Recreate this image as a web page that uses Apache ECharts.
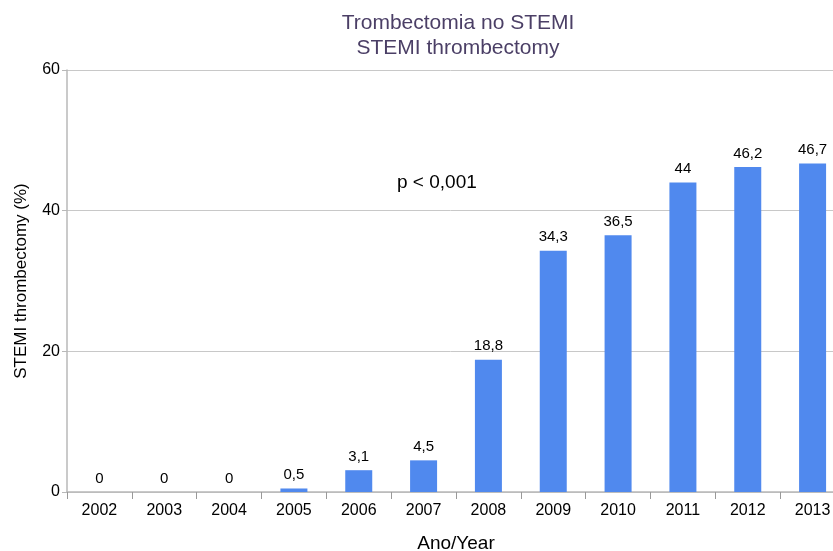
<!DOCTYPE html>
<html><head><meta charset="utf-8">
<script src="https://cdn.jsdelivr.net/npm/echarts@6/dist/echarts.min.js"></script>
<style>html,body{margin:0;padding:0;background:#fff}#c{width:833px;height:551px}</style>
</head><body><div id="c"></div>
<script>
const categories = ["2002","2003","2004","2005","2006","2007","2008","2009","2010","2011","2012","2013"];
const values = [0,0,0,0.5,3.1,4.5,18.8,34.3,36.5,44,46.2,46.7];
const yTicks = [0,20,40,60];
const titleLines = ["Trombectomia no STEMI","STEMI thrombectomy"];
const annotation = "p < 0,001";

const chart = echarts.init(document.getElementById('c'), null, {renderer:'canvas'});
const F = "'Liberation Sans', Arial, sans-serif";
chart.setOption({
  animation:false,
  backgroundColor:'#fff',
  title:{text:titleLines.join('\n'), left:453, top:6, textAlign:'center',
    textStyle:{color:'#4b3f66', fontFamily:F, fontSize:21, fontWeight:'normal', lineHeight:25}},
  grid:{left:67, width:778, top:70, height:422, containLabel:false, outerBoundsMode:'none'},
  xAxis:{type:'category', data:categories, boundaryGap:true,
    name:'Ano/Year', nameLocation:'middle', nameGap:42,
    nameTextStyle:{color:'#000', fontFamily:F, fontSize:19},
    axisLine:{show:true, lineStyle:{color:'#b8b8b8', width:1.5}},
    axisTick:{show:true, alignWithLabel:false, length:7, lineStyle:{color:'#999'}},
    axisLabel:{color:'#000', fontFamily:F, fontSize:16, margin:11}},
  yAxis:{type:'value', min:0, max:60, interval:20,
    name:'STEMI thrombectomy (%)', nameLocation:'middle', nameGap:37,
    nameTextStyle:{color:'#000', fontFamily:F, fontSize:17},
    axisLine:{show:true, lineStyle:{color:'#b8b8b8', width:1.5}},
    axisTick:{show:true, length:5, lineStyle:{color:'#b8b8b8'}},
    axisLabel:{color:'#000', fontFamily:F, fontSize:16, margin:7,
      formatter:v=>yTicks.includes(v)?String(v):''},
    splitLine:{show:true, lineStyle:{color:'#c8c8c8', width:1}}},
  series:[{type:'bar', data:values, barWidth:27,
    itemStyle:{color:'#5089ee'},
    label:{show:true, position:'top', distance:6, color:'#000', fontFamily:F, fontSize:15,
      formatter:p=>String(p.value).replace('.',',')}}],
  graphic:[{type:'text', left:397, top:173, style:{text:annotation, fill:'#000', font:"19px 'Liberation Sans', Arial, sans-serif"}}]
});
</script></body></html>
